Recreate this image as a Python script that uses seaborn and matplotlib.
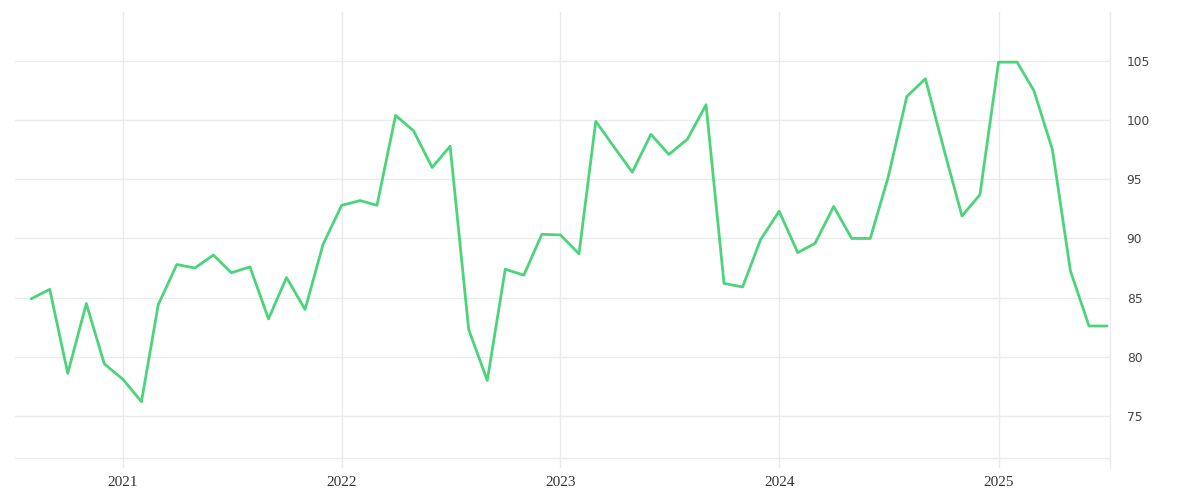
import matplotlib
matplotlib.use('Agg')
import matplotlib.pyplot as plt
import matplotlib.dates as mdates
import numpy as np
import pandas as pd
import seaborn as sns

# monthly values, Aug 2020 .. Jul 2025
months = pd.date_range('2020-08-01', '2025-07-01', freq='MS')
values = [84.9, 85.7, 78.6, 84.5, 79.4,
          78.1, 76.2, 84.4, 87.8, 87.5, 88.6, 87.1, 87.6, 83.2, 86.7, 84.0, 89.5,
          92.8, 93.2, 92.8, 100.4, 99.1, 96.0, 97.8, 82.3, 78.0, 87.4, 86.9, 90.35,
          90.3, 88.7, 99.9, 97.7, 95.6, 98.8, 97.1, 98.4, 101.3, 86.2, 85.9, 89.9,
          92.3, 88.8, 89.6, 92.7, 90.0, 90.0, 95.2, 102.0, 103.5, 97.7, 91.9, 93.7,
          104.9, 104.9, 102.5, 97.5, 87.25, 82.6, 82.6]
year_ticks = pd.to_datetime(['2021-01-01', '2022-01-01', '2023-01-01', '2024-01-01', '2025-01-01'])
y_ticks = [75, 80, 85, 90, 95, 100, 105]

df = pd.DataFrame({'date': months, 'value': values})

sns.set_style('white')
grid_col = '#ebebeb'

fig = plt.figure(figsize=(12, 5), dpi=100)
ax = fig.add_axes([15 / 1200, 32 / 500, 1095 / 1200, 456 / 500])

sns.lineplot(data=df, x='date', y='value', ax=ax, color='#4cd47b', linewidth=2.0)

ax.set_xlim(pd.Timestamp('2020-07-05'), pd.Timestamp('2025-07-06'))
ax.set_ylim(70.6, 109.14)

ax.set_xticks(year_ticks)
ax.xaxis.set_major_formatter(mdates.DateFormatter('%Y'))
ax.set_yticks(y_ticks)
ax.yaxis.tick_right()

ax.grid(True, color=grid_col, linewidth=1)
ax.axhline(71.45, color=grid_col, linewidth=1, zorder=0)

for s in ['left', 'top', 'bottom']:
    ax.spines[s].set_visible(False)
ax.spines['right'].set_color(grid_col)
ax.spines['right'].set_linewidth(1)

ax.tick_params(axis='both', length=0)
ax.tick_params(axis='y', pad=12, labelsize=8.8, labelcolor='#444444')
ax.tick_params(axis='x', pad=6, labelsize=11, labelcolor='#333333')
for lab in ax.get_xticklabels():
    lab.set_family(['Liberation Serif', 'DejaVu Serif'])
for lab in ax.get_yticklabels():
    lab.set_family(['DejaVu Sans'])

ax.set_xlabel('')
ax.set_ylabel('')
if ax.get_legend():
    ax.get_legend().remove()

fig.savefig('out.png', dpi=100)
